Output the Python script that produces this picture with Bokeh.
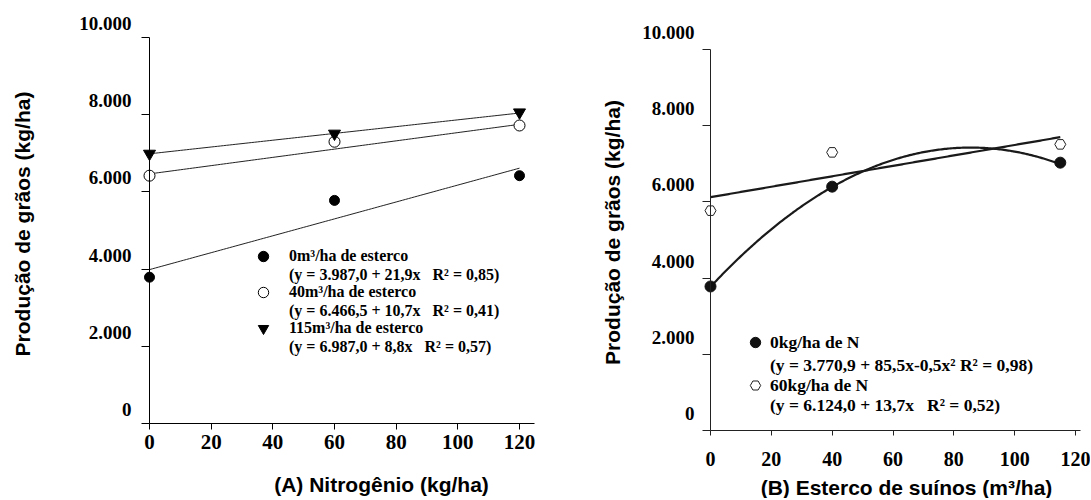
from bokeh.plotting import figure
from bokeh.models import Range1d, LinearAxis, FixedTicker, Legend, LegendItem
from bokeh.layouts import row
from bokeh.embed import file_html
from bokeh.resources import INLINE
import numpy as np

# ---------------- data ----------------
y_ticks = [0, 2000, 4000, 6000, 8000, 10000]
y_tick_labels = ["0", "2.000", "4.000", "6.000", "8.000", "10.000"]
x_ticks = [0, 20, 40, 60, 80, 100, 120]

# Panel A : nitrogen dose (kg/ha) x grain yield, for three manure doses
nitrogen_kg = [0, 60, 120]
a_esterco_0 = [3790, 5780, 6420]
a_esterco_40 = [6420, 7300, 7720]
a_esterco_115 = [6990, 7510, 8060]
a_fit_0 = [3987.0, 21.9]
a_fit_40 = [6466.5, 10.7]
a_fit_115 = [6987.0, 8.8]
a_names = ["0m³/ha de esterco", "40m³/ha de esterco", "115m³/ha de esterco"]
a_equations = ["(y = 3.987,0 + 21,9x   R² = 0,85)",
               "(y = 6.466,5 + 10,7x   R² = 0,41)",
               "(y = 6.987,0 + 8,8x   R² = 0,57)"]

# Panel B : pig manure dose (m3/ha) x grain yield, for two N doses
esterco_m3 = [0, 40, 115]
b_n_0 = [3780, 6400, 7030]
b_n_60 = [5770, 7300, 7510]
b_fit_0 = [3770.9, 85.5, -0.5]
b_fit_60 = [6124.0, 13.7]
b_names = ["0kg/ha de N", "60kg/ha de N"]
b_equations = ["(y = 3.770,9 + 85,5x-0,5x² R² = 0,98)",
               "(y = 6.124,0 + 13,7x   R² = 0,52)"]

SERIF = "Liberation Serif"
SANS = "Liberation Sans"
H = 498


def build(width, page_x0, ax_x0, ax_x120, ax_y0, ax_y10k,
          shift_px, x_end, xlab_font, ylab_font, xlab_standoff, xtick_out,
          ylab_standoff, ytitle_standoff, ytitle_low, xtitle_center_px,
          xtitle_standoff, xtitle, ytitle, title_font, axis_color):
    sx = (ax_x120 - ax_x0) / 120.0
    sy = (ax_y0 - ax_y10k) / 10000.0
    xr = Range1d((page_x0 - ax_x0) / sx, (page_x0 + width - ax_x0) / sx)
    yr = Range1d((ax_y0 - H) / sy, ax_y0 / sy)
    p = figure(width=width, height=H, x_range=xr, y_range=yr,
               x_axis_location=None, y_axis_location=None,
               toolbar_location=None, output_backend="svg",
               min_border_left=0, min_border_right=0,
               min_border_top=0, min_border_bottom=0)
    p.outline_line_color = None
    p.grid.visible = False
    p.background_fill_color = "white"
    p.border_fill_color = "white"
    d = shift_px / sy
    p.extra_y_ranges = {"lab": Range1d(yr.start - d, yr.end - d)}

    # y axis: line + ticks
    yt = LinearAxis(fixed_location=0, bounds=(0, 10000),
                    ticker=FixedTicker(ticks=y_ticks),
                    major_tick_out=8, major_tick_in=0,
                    minor_tick_line_color=None,
                    major_label_text_font_size="0px",
                    major_label_text_color=None,
                    axis_line_color=axis_color, major_tick_line_color=axis_color)
    p.add_layout(yt, "left")
    # y axis: labels + title (labels sit a little above their ticks, as in the source)
    yl = LinearAxis(y_range_name="lab", fixed_location=0, bounds=(ytitle_low, 10000),
                    ticker=FixedTicker(ticks=y_ticks),
                    major_label_overrides=dict(zip(y_ticks, y_tick_labels)),
                    axis_line_color=None, major_tick_line_color=None,
                    major_tick_out=0, major_tick_in=0,
                    minor_tick_line_color=None,
                    major_label_standoff=ylab_standoff,
                    major_label_text_font=SERIF,
                    major_label_text_font_style="bold",
                    major_label_text_font_size=ylab_font,
                    major_label_text_color="black",
                    axis_label=ytitle, axis_label_standoff=ytitle_standoff,
                    axis_label_text_font=SANS,
                    axis_label_text_font_style="bold",
                    axis_label_text_font_size=title_font,
                    axis_label_text_color="black")
    p.add_layout(yl, "left")
    # x axis
    xa = LinearAxis(fixed_location=0, bounds=(0, x_end),
                    ticker=FixedTicker(ticks=x_ticks),
                    major_tick_out=xtick_out, major_tick_in=0,
                    minor_tick_line_color=None,
                    major_label_standoff=xlab_standoff,
                    major_label_text_font=SERIF,
                    major_label_text_font_style="bold",
                    major_label_text_font_size=xlab_font,
                    major_label_text_color="black",
                    axis_line_color=axis_color, major_tick_line_color=axis_color)
    p.add_layout(xa, "below")
    c = (xtitle_center_px - ax_x0) / sx
    xt = LinearAxis(fixed_location=0, bounds=(c - 50, c + 50),
                    ticker=FixedTicker(ticks=[]),
                    axis_line_color=None, major_tick_line_color=None,
                    major_tick_out=0, major_tick_in=0,
                    minor_tick_line_color=None,
                    major_label_text_font_size="0px",
                    axis_label=xtitle, axis_label_standoff=xtitle_standoff,
                    axis_label_text_font=SANS,
                    axis_label_text_font_style="bold",
                    axis_label_text_font_size=title_font,
                    axis_label_text_color="black")
    p.add_layout(xt, "below")
    return p


def legend_style(font, **kw):
    base = dict(padding=0, margin=0, label_text_font=SERIF,
                label_text_font_style="bold", label_text_font_size=font,
                label_text_color="black", border_line_color=None,
                background_fill_alpha=0)
    base.update(kw)
    return base


def add_legends(p, names, renderers, equations, name_loc, name_spacing,
                name_standoff, eq_loc, eq_spacing, font):
    # series names with their markers
    p.add_layout(Legend(items=[LegendItem(label=n, renderers=[r])
                               for n, r in zip(names, renderers)],
                        location=name_loc,
                        **legend_style(font, spacing=name_spacing, glyph_width=26,
                                       glyph_height=26, label_height=10,
                                       label_standoff=name_standoff)))
    # regression equations under each name (text rows without a marker)
    blank = p.scatter(x=[], y=[], marker="circle", size=1,
                      fill_alpha=0, line_alpha=0)
    p.add_layout(Legend(items=[LegendItem(label=e, renderers=[blank]) for e in equations],
                        location=eq_loc,
                        **legend_style(font, spacing=eq_spacing, glyph_width=1,
                                       glyph_height=1, label_height=21,
                                       label_standoff=0)))


# ---------------- panel A ----------------
pa = build(545, 0, 149, 519, 423, 37, 14, 125,
           "21px", "19px", 5, 6, 18, 42, -400, 381, 49,
           "(A) Nitrogênio (kg/ha)", "Produção de grãos (kg/ha)", "21px", "black")

xs_a = np.linspace(0, 120, 121)
for fit in (a_fit_0, a_fit_40, a_fit_115):
    pa.line(xs_a, fit[0] + fit[1] * xs_a, line_color="#222222", line_width=1)

ra0 = pa.scatter(nitrogen_kg, a_esterco_0, marker="circle", size=10,
                 fill_color="black", line_color="black")
ra40 = pa.scatter(nitrogen_kg, a_esterco_40, marker="circle", size=11,
                  fill_color="white", line_color="black", line_width=1)
ra115 = pa.scatter(nitrogen_kg, a_esterco_115, marker="inverted_triangle",
                   size=12, fill_color="black", line_color="black")

add_legends(pa, a_names, (ra0, ra40, ra115), a_equations,
            (250, 157), 10, 13, (288, 141), 15, "16px")

# ---------------- panel B ----------------
pb = build(545, 545, 710, 1075, 430, 49, 17, 121.5,
           "20px", "19px", 16, 5, 16, 15, -500, 906, 45,
           "(B) Esterco de suínos (m³/ha)", "Produção de grãos (kg/ha)", "21px", "#222222")

xs_b = np.linspace(0, 115, 231)
pb.line(xs_b, b_fit_0[0] + b_fit_0[1] * xs_b + b_fit_0[2] * xs_b ** 2,
        line_color="#1a1a1a", line_width=2.2)
pb.line(xs_b, b_fit_60[0] + b_fit_60[1] * xs_b, line_color="#1a1a1a", line_width=2.2)

rb0 = pb.scatter(esterco_m3, b_n_0, marker="circle", size=11,
                 fill_color="#111111", line_color="#111111")
rb60 = pb.scatter(esterco_m3, b_n_60, marker="hex", size=11,
                  fill_color="white", line_color="#222222", line_width=1)

add_legends(pb, b_names, (rb0, rb60), b_equations,
            (197, 100), 17, 2, (224, 82), 19, "17.5px")

layout = row(pa, pb)
open("out.html", "w").write(file_html(layout, INLINE))
